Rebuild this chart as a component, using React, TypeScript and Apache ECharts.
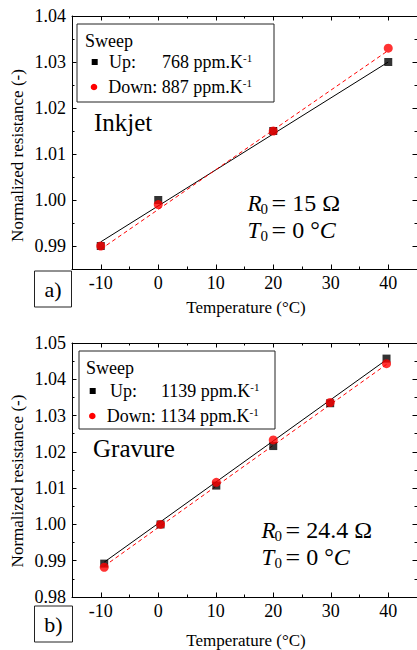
import React, { useEffect, useRef } from "react";
import * as echarts from "echarts";

// ---- Data: (a) Inkjet ----
const inkjetTemp = [-10, 0, 20, 40];
const inkjetUp = [0.99, 1.0, 1.015, 1.03];
const inkjetDown = [0.99, 0.999, 1.015, 1.033];
const inkjetFitX = [-10, 40];
const inkjetFitUp = [0.9909, 1.03];
const inkjetFitDown = [0.9893, 1.0325];

// ---- Data: (b) Gravure ----
const gravureTemp = [-9.4, 0.4, 10.1, 20, 29.9, 39.7];
const gravureUp = [0.9892, 1.0, 1.0107, 1.0216, 1.0334, 1.0457];
const gravureDown = [0.9882, 1.0, 1.0116, 1.0233, 1.0336, 1.0443];
const gravureFitX = [-9.4, 39.7];
const gravureFitUp = [0.9896, 1.0454];
const gravureFitDown = [0.9885, 1.0441];

// ---- Ticks ----
const xMajor = [-10, 0, 10, 20, 30, 40];
const xMinor = [-5, 5, 15, 25, 35];
const yMajorA = [0.99, 1.0, 1.01, 1.02, 1.03, 1.04];
const yMinorA = [0.995, 1.005, 1.015, 1.025, 1.035];
const yMajorB = [0.98, 0.99, 1.0, 1.01, 1.02, 1.03, 1.04, 1.05];
const yMinorB = [0.985, 0.995, 1.005, 1.015, 1.025, 1.035, 1.045];

const FONT = "Liberation Serif, Times New Roman, serif";

function zip(xs: number[], ys: number[]) {
  return xs.map((x, i) => [x, ys[i]]);
}

function makeAxes(
  dim: "x" | "y",
  gridIndex: number,
  min: number,
  max: number,
  major: number[],
  minor: number[],
  fmt: (v: number) => string
) {
  const mainPos = dim === "x" ? "bottom" : "left";
  const mirrorPos = dim === "x" ? "top" : "right";
  const base = { type: "value", gridIndex, min, max, splitLine: { show: false } };
  const line = { show: true, onZero: false, lineStyle: { color: "#000", width: 1 } };
  const noLine = { show: false, onZero: false };
  const majTick = { show: true, inside: true, length: 4.5, customValues: major, lineStyle: { color: "#000", width: 1 } };
  const minTick = { show: true, inside: true, length: 2.5, customValues: minor, lineStyle: { color: "#000", width: 1 } };
  return [
    {
      ...base,
      position: mainPos,
      axisLine: line,
      axisTick: majTick,
      axisLabel: {
        show: true,
        customValues: major,
        formatter: fmt,
        margin: dim === "x" ? 5 : 6,
        color: "#000",
        fontFamily: FONT,
        fontSize: 18,
      },
    },
    { ...base, position: mainPos, axisLine: noLine, axisTick: minTick, axisLabel: { show: false } },
    { ...base, position: mirrorPos, axisLine: line, axisTick: majTick, axisLabel: { show: false } },
    { ...base, position: mirrorPos, axisLine: noLine, axisTick: minTick, axisLabel: { show: false } },
  ];
}

const fx = (v: number) => String(Math.round(v));
const fy = (v: number) => v.toFixed(2);

function legendGraphics(
  bx: number, by: number, bw: number, bh: number,
  sweepX: number, sweepY: number,
  sqX: number, upY: number, upX: number, upValX: number, upVal: string,
  ciX: number, downY: number, downX: number, downVal: string
) {
  const t = { fontFamily: FONT, fontSize: 18, fill: "#000" };
  const rich = {
    n: { fontFamily: FONT, fontSize: 18, fill: "#000", lineHeight: 20 },
    sup: { fontFamily: FONT, fontSize: 11, fill: "#000", verticalAlign: "top", lineHeight: 20 },
  };
  return [
    { type: "rect", shape: { x: bx, y: by, width: bw, height: bh }, style: { fill: "#fff", stroke: "#222", lineWidth: 1 }, z: 10 },
    { type: "text", x: sweepX, y: sweepY, style: { ...t, text: "Sweep", verticalAlign: "middle" }, z: 11 },
    { type: "rect", shape: { x: sqX - 3, y: upY - 3, width: 6, height: 6 }, style: { fill: "#000" }, z: 11 },
    { type: "text", x: upX, y: upY, style: { ...t, text: "Up:", verticalAlign: "middle" }, z: 11 },
    { type: "text", x: upValX, y: upY, style: { text: `{n|${upVal} ppm.K}{sup|-1}`, rich, verticalAlign: "middle" }, z: 11 },
    { type: "circle", shape: { cx: ciX, cy: downY, r: 3.3 }, style: { fill: "#ff0000" }, z: 11 },
    { type: "text", x: downX, y: downY, style: { text: `{n|Down: ${downVal} ppm.K}{sup|-1}`, rich, verticalAlign: "middle" }, z: 11 },
  ];
}

function mathLine(x: number, y: number, sym: string, rest: string, italicTail: string) {
  const base = { fill: "#000", verticalAlign: "middle" };
  const rich = {
    e: { fontFamily: FONT, fontSize: 26, fill: "#000", lineHeight: 22 },
    n: { fontFamily: FONT, fontSize: 24, fill: "#000", lineHeight: 22 },
    i: { fontFamily: FONT, fontSize: 24, fontStyle: "italic", fill: "#000", lineHeight: 22 },
  };
  return [
    { type: "text", x, y, style: { ...base, text: sym, fontFamily: FONT, fontStyle: "italic", fontSize: 23 }, z: 11 },
    { type: "text", x: x + 13, y: y + 6, style: { ...base, text: "0", fontFamily: FONT, fontSize: 15 }, z: 11 },
    {
      type: "text", x: x + 24, y,
      style: { ...base, text: `{e|=}{n| ${rest}}` + (italicTail ? `{i|${italicTail}}` : ""), rich }, z: 11,
    },
  ];
}

function mathText(x: number, y: number, r: string) {
  return [
    ...mathLine(x, y, "R", `${r} Ω`, ""),
    ...mathLine(x, y + 27, "T", "0 °", "C"),
  ];
}

function panelLabel(x: number, y: number, w: number, h: number, label: string) {
  return [
    { type: "rect", shape: { x, y, width: w, height: h }, style: { fill: "#fff", stroke: "#222", lineWidth: 1 }, z: 10 },
    {
      type: "text", x: x + w / 2, y: y + h / 2,
      style: { text: label, fontFamily: FONT, fontSize: 22, fill: "#000", align: "center", verticalAlign: "middle" }, z: 11,
    },
  ];
}

export default function App() {
  const ref = useRef<HTMLDivElement>(null);
  useEffect(() => {
    if (!ref.current) return;
    const chart = echarts.init(ref.current, null, { renderer: "svg" });

    const xAxes = [
      ...makeAxes("x", 0, -15, 45, xMajor, xMinor, fx),
      ...makeAxes("x", 1, -15, 45, xMajor, xMinor, fx),
    ];
    const yAxes = [
      ...makeAxes("y", 0, 0.985, 1.04, yMajorA, yMinorA, fy),
      ...makeAxes("y", 1, 0.98, 1.05, yMajorB, yMinorB, fy),
    ];

    const fitLine = (data: number[][], axis: number, red: boolean) => ({
      type: "line",
      xAxisIndex: axis,
      yAxisIndex: axis,
      data,
      showSymbol: false,
      symbol: "none",
      lineStyle: { color: red ? "#ff0000" : "#000", width: 1, type: red ? [4, 3] : "solid" },
      z: 2,
    });
    const pts = (data: number[][], axis: number, red: boolean) => ({
      type: "scatter",
      xAxisIndex: axis,
      yAxisIndex: axis,
      data,
      symbol: red ? "circle" : "rect",
      symbolSize: red ? 9 : 8,
      itemStyle: { color: red ? "#ff0000" : "#000" },
      z: 3,
    });

    const titleStyle = { fontFamily: FONT, fontSize: 17, fill: "#000", align: "center", verticalAlign: "middle" };

    chart.setOption({
      animation: false,
      backgroundColor: "#fff",
      grid: [
        { left: 72, top: 16, width: 345, height: 253, containLabel: false },
        { left: 72, top: 343, width: 345, height: 254, containLabel: false },
      ],
      xAxis: xAxes,
      yAxis: yAxes,
      series: [
        fitLine(zip(inkjetFitX, inkjetFitUp), 0, false),
        fitLine(zip(inkjetFitX, inkjetFitDown), 0, true),
        pts(zip(inkjetTemp, inkjetUp), 0, false),
        pts(zip(inkjetTemp, inkjetDown), 0, true),
        fitLine(zip(gravureFitX, gravureFitUp), 4, false),
        fitLine(zip(gravureFitX, gravureFitDown), 4, true),
        pts(zip(gravureTemp, gravureUp), 4, false),
        pts(zip(gravureTemp, gravureDown), 4, true),
      ],
      graphic: [
        ...legendGraphics(77, 24, 197, 78, 85, 41, 94.7, 62, 109, 162, "768", 94, 87, 108.3, "887"),
        ...legendGraphics(79, 351, 196, 78, 86, 367.5, 92.7, 391, 110, 161, "1139", 92.3, 416, 106.7, "1134"),
        { type: "text", x: 94, y: 122, style: { text: "Inkjet", fontFamily: FONT, fontSize: 25, fill: "#000", verticalAlign: "middle" } },
        { type: "text", x: 93, y: 448, style: { text: "Gravure", fontFamily: FONT, fontSize: 25, fill: "#000", verticalAlign: "middle" } },
        ...mathText(247.5, 203, "15"),
        ...mathText(261.5, 530, "24.4"),
        ...panelLabel(34.5, 271, 37, 36, "a)"),
        ...panelLabel(34.5, 606, 38, 36, "b)"),
        { type: "text", x: 17.5, y: 155.5, rotation: Math.PI / 2, style: { ...titleStyle, text: "Normalized resistance (-)" } },
        { type: "text", x: 17.5, y: 481, rotation: Math.PI / 2, style: { ...titleStyle, text: "Normalized resistance (-)" } },
        { type: "text", x: 246, y: 307, style: { ...titleStyle, text: "Temperature (°C)" } },
        { type: "text", x: 246, y: 640, style: { ...titleStyle, text: "Temperature (°C)" } },
      ],
    });
    return () => chart.dispose();
  }, []);
  return <div ref={ref} style={{ position: "absolute", left: 0, top: 0, width: 417, height: 650 }} />;
}
